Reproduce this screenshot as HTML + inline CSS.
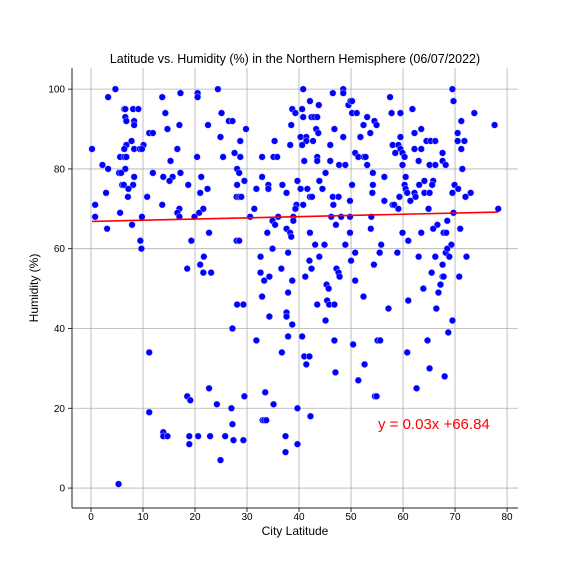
<!DOCTYPE html>
<html><head><meta charset="utf-8"><style>
html,body{margin:0;padding:0;background:#fff;width:576px;height:576px;overflow:hidden}
svg{display:block}
text{font-family:"Liberation Sans","DejaVu Sans",sans-serif}
</style></head><body>
<svg id="chart" width="576" height="576" xmlns="http://www.w3.org/2000/svg">
<text x="295" y="63" text-anchor="middle" font-size="12.5" fill="#000">Latitude vs. Humidity (%) in the Northern Hemisphere (06/07/2022)</text>
<g id="grid"></g>
<g id="pts"></g>
<g id="reg"></g>
<g id="axes"></g>
<text x="295" y="535" text-anchor="middle" font-size="12">City Latitude</text>
<text transform="translate(38,288) rotate(-90)" text-anchor="middle" font-size="12">Humidity (%)</text>
</svg>
<script>
const xTicks=[0,10,20,30,40,50,60,70,80];
const yTicks=[0,20,40,60,80,100];
const regSlope=0.03;
const regIntercept=66.84;
const regLabel="y = 0.03x +66.84";
const lats=[4.7,3.3,6.4,6.6,8.1,9.1,6.6,6.8,8.3,8.3,11.2,11.9,7.8,6.8,10.1,0.2,6.4,8.3,9.4,9.8,5.6,6.4,6.8,2.2,3.3,6.6,5.4,5.8,11.9,8.3,6.0,6.3,8.1,7.2,2.9,7.1,10.8,0.8,5.6,0.8,9.8,7.9,3.1,9.5,9.7,
13.7,17.2,20.5,20.5,24.4,14.3,25.1,17.0,14.7,22.5,24.9,16.6,15.3,20.4,25.4,13.9,15.7,15.1,17.2,21.2,18.7,21.0,22.4,13.7,17.0,16.6,17.0,19.9,20.8,21.6,22.7,19.3,21.7,21.0,18.5,21.6,23.1,
40.8,48.5,48.5,46.5,42.1,43.8,49.5,49.9,50.2,38.7,39.3,40.6,26.5,27.2,40.8,42.4,42.9,43.5,50.2,51.1,53.1,54.5,38.5,43.3,43.7,46.8,52.4,29.8,53.7,40.3,41.4,41.4,48.5,51.8,35.3,28.7,42.7,38.3,40.6,46.0,27.6,28.7,32.9,35.1,35.8,43.5,43.5,41.0,46.0,50.8,51.4,52.5,52.8,47.7,48.9,53.1,28.1,28.5,32.9,45.1,54.2,28.1,29.5,39.7,43.9,31.8,34.1,34.1,36.8,37.6,40.3,41.6,44.5,50.2,54.2,28.0,28.5,28.9,42.1,42.5,46.5,47.6,54.1,49.8,39.5,39.3,40.8,46.6,31.4,30.6,36.0,38.9,38.9,34.9,35.4,46.2,48.1,49.8,53.9,47.1,37.6,53.8,33.9,38.3,38.5,42.1,49.8,28.0,28.5,43.1,44.9,48.9,34.9,37.9,50.8,32.6,43.9,42.0,50.0,54.4,36.6,42.4,47.2,47.6,47.8,32.6,34.3,33.3,38.7,41.2,50.8,45.3,45.7,37.9,
69.5,69.7,57.5,57.8,59.5,61.8,73.7,54.9,71.2,77.6,63.5,62.2,70.5,59.5,64.5,65.3,66.2,70.5,71.8,58.0,59.1,71.2,59.5,59.9,60.3,58.5,62.2,63.5,67.6,63.0,67.6,68.2,59.9,65.1,66.2,71.4,56.4,60.5,64.1,65.8,65.6,60.3,60.5,60.8,63.1,69.9,70.6,62.2,62.4,64.1,65.1,69.5,73.0,59.3,72.0,61.4,56.4,58.0,58.3,59.1,64.9,78.3,69.7,68.5,66.6,65.8,71.0,59.9,63.5,67.8,68.3,61.0,55.8,69.3,55.5,58.9,68.2,68.5,63.0,66.2,68.9,72.2,67.6,65.5,67.6,67.8,70.8,67.2,63.9,66.8,
11.2,5.3,11.2,18.5,19.1,22.7,24.2,13.9,13.9,14.7,18.9,18.9,20.6,22.9,25.8,24.9,
28.1,29.3,32.9,43.5,45.4,45.8,46.8,52.4,34.3,37.6,37.6,38.7,27.2,45.1,31.8,37.9,40.6,46.8,50.4,36.7,41.0,42.0,41.4,47.0,52.6,51.4,29.5,33.5,35.1,27.0,39.7,33.0,33.3,33.7,42.2,27.2,27.4,29.3,37.4,39.7,37.4,54.6,
57.2,61.0,66.4,69.5,68.7,55.1,55.6,64.7,60.8,65.1,68.0,62.6,54.9];
const hums=[100,98,95,95,95,95,93,92,92,91,89,89,87,86,86,85,85,85,85,85,83,83,83,81,80,80,79,79,79,78,76,76,76,75,74,73,73,71,69,68,68,66,65,62,60,
98,99,99,98,100,94,94,91,90,91,88,85,82,83,83,78,78,77,79,78,76,74,75,71,70,69,68,68,69,70,64,62,58,56,55,54,54,
100,100,99,99,97,96,96,97,97,95,94,95,92,92,93,93,93,93,94,94,93,92,91,90,89,90,91,90,89,88,88,87,88,88,87,87,87,86,86,86,84,83,83,83,83,83,82,82,82,84,83,83,83,81,81,81,80,79,78,79,79,76,77,77,77,75,76,75,76,74,75,75,75,76,76,73,73,73,73,73,73,73,74,72,71,70,71,71,70,68,68,68,67,67,66,68,68,68,68,66,65,65,64,64,63,64,64,62,62,61,61,61,60,59,59,58,58,57,57,56,55,55,55,54,53,54,53,52,52,53,52,51,50,49,
100,97,98,94,94,95,94,91,92,91,90,89,89,88,87,87,87,87,87,86,86,85,85,84,83,84,85,85,84,82,82,81,81,81,81,80,78,78,77,77,76,76,75,74,76,76,75,74,73,74,74,74,74,73,73,72,72,71,71,70,70,70,69,67,66,65,65,64,64,64,64,62,61,61,59,59,59,60,58,58,58,58,56,54,53,53,53,51,50,49,
34,1,19,23,22,25,21,14,13,13,13,11,13,13,13,7,
46,46,48,46,47,46,46,48,43,44,43,41,40,42,37,38,38,37,36,34,33,33,31,29,31,27,23,24,21,20,20,17,17,17,18,16,12,12,13,11,9,23,
45,47,45,42,39,37,37,37,34,30,28,25,23];

const NS='http://www.w3.org/2000/svg';
const L=72,R=518,T=68,B=508;
const xMin=-3.65,xMax=82.1,yMin=-5.0,yMax=105.3;
function sx(v){return L+(v-xMin)/(xMax-xMin)*(R-L);}
function sy(v){return B-(v-yMin)/(yMax-yMin)*(B-T);}
function mk(tag,attrs,parent){const e=document.createElementNS(NS,tag);for(const k in attrs)e.setAttribute(k,attrs[k]);parent.appendChild(e);return e;}
const grid=document.getElementById('grid'),axes=document.getElementById('axes');
xTicks.forEach(t=>{
  const gl=mk('line',{x1:sx(t),x2:sx(t),y1:T,y2:B,stroke:'#b0b0b0','stroke-width':0.8},grid);
  
  
  mk('line',{x1:sx(t),x2:sx(t),y1:B,y2:B+4,stroke:'#000','stroke-width':0.8},axes);
  const tx=mk('text',{x:sx(t),y:B+12,'text-anchor':'middle','font-size':10},axes);
  tx.textContent=t;
  
  
});
yTicks.forEach(t=>{
  const gl=mk('line',{x1:L,x2:R,y1:sy(t),y2:sy(t),stroke:'#b0b0b0','stroke-width':0.8},grid);
  
  
  mk('line',{x1:L-4,x2:L,y1:sy(t),y2:sy(t),stroke:'#000','stroke-width':0.8},axes);
  const tx=mk('text',{x:L-7,y:sy(t)+3.5,'text-anchor':'end','font-size':10},axes);
  tx.textContent=t;
  
  
});
mk('line',{x1:L,x2:L,y1:T,y2:B,stroke:'#222','stroke-width':1},axes);
mk('line',{x1:L,x2:R,y1:B,y2:B,stroke:'#222','stroke-width':1},axes);
const pts=document.getElementById('pts');
for(let i=0;i<lats.length;i++){
  const c=mk('circle',{cx:sx(lats[i]),cy:sy(hums[i]),r:3.3,fill:'#0000ff',stroke:'#c8c8ff','stroke-width':0.5},pts);
  
  
}
const reg=document.getElementById('reg');
const x0=Math.min(...lats),x1=Math.max(...lats);
const ln=mk('line',{x1:sx(x0),y1:sy(regSlope*x0+regIntercept),x2:sx(x1),y2:sy(regSlope*x1+regIntercept),stroke:'#ff0000','stroke-width':1.6},reg);


const lab=mk('text',{x:378,y:429,'font-size':15,fill:'#ff0000'},reg);
lab.textContent=regLabel;


</script>
</body></html>
